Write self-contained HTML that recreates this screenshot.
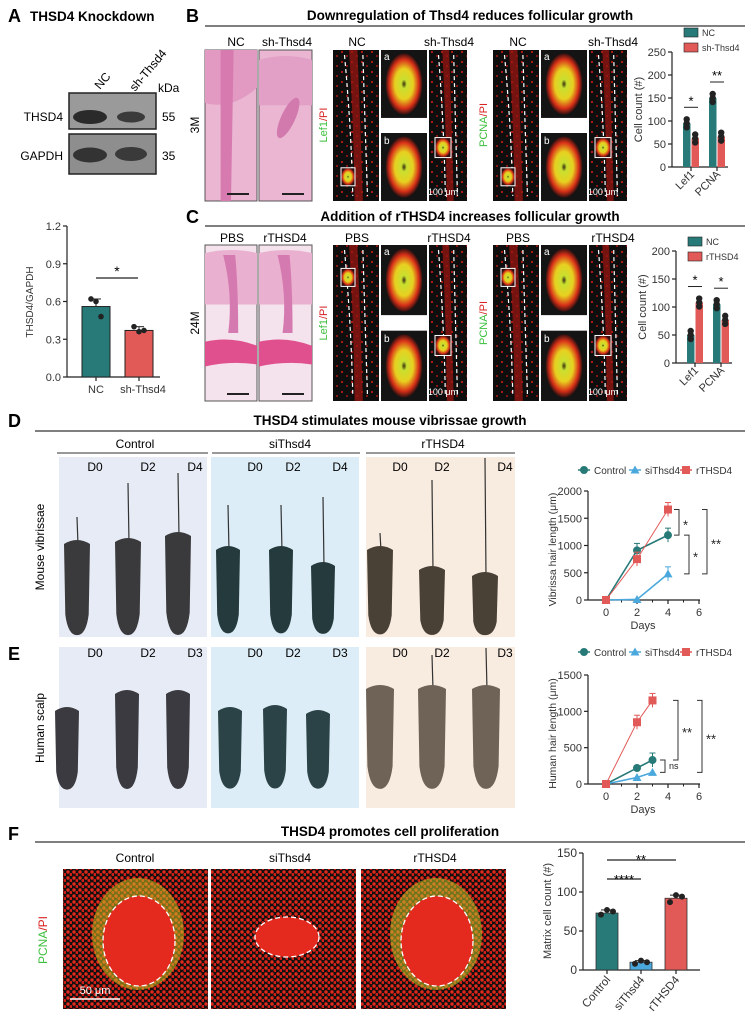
<!DOCTYPE html>
<html><head><meta charset="utf-8"><style>
body{margin:0;background:#fff}
svg{display:block;font-family:"Liberation Sans",Arial,sans-serif}
.t{font-weight:bold;font-size:13.5px}
.L{font-weight:bold;font-size:18px}
.c{font-size:12px}
.k{font-size:10px}
</style></head><body>
<svg id="fig" width="745" height="1025" viewBox="0 0 745 1025" xmlns="http://www.w3.org/2000/svg">
<defs>
<radialGradient id="rb" cx="50%" cy="50%" r="50%"><stop offset="0" stop-color="#e8201a"/><stop offset="0.7" stop-color="#b01510"/><stop offset="1" stop-color="#1a1a1a"/></radialGradient>
<radialGradient id="yb" cx="50%" cy="50%" r="50%"><stop offset="0" stop-color="#3a2a10"/><stop offset="0.15" stop-color="#c8e030"/><stop offset="0.5" stop-color="#e8d020"/><stop offset="0.8" stop-color="#d83018"/><stop offset="1" stop-color="#301010"/></radialGradient>
<pattern id="dots" width="10" height="10" patternUnits="userSpaceOnUse"><rect width="10" height="10" fill="#0e0e0e"/><circle cx="2" cy="2" r="1.1" fill="#b81a14"/><circle cx="7" cy="6" r="1" fill="#a81812"/></pattern>
<pattern id="dots2" width="6" height="6" patternUnits="userSpaceOnUse"><rect width="6" height="6" fill="#151010"/><circle cx="2" cy="2" r="1.7" fill="#e22a1c"/><circle cx="5" cy="4.5" r="1.5" fill="#d82018"/></pattern>
</defs>

<text class="L" x="8" y="22">A</text>
<text class="t" x="30" y="21">THSD4 Knockdown</text>
<text class="L" x="186" y="22">B</text>
<text class="t" x="470" y="20" text-anchor="middle">Downregulation of Thsd4 reduces follicular growth</text>
<line x1="205" y1="26" x2="745" y2="26" stroke="#333" stroke-width="1.2"/>
<text class="L" x="186" y="223">C</text>
<text class="t" x="470" y="221" text-anchor="middle">Addition of rTHSD4 increases follicular growth</text>
<line x1="205" y1="226" x2="745" y2="226" stroke="#333" stroke-width="1.2"/>
<text class="L" x="8" y="427">D</text>
<text class="t" x="390" y="425" text-anchor="middle">THSD4 stimulates mouse vibrissae growth</text>
<line x1="35" y1="431" x2="745" y2="431" stroke="#333" stroke-width="1.2"/>
<text class="L" x="8" y="660">E</text>
<text class="L" x="8" y="840">F</text>
<text class="t" x="390" y="836" text-anchor="middle">THSD4 promotes cell proliferation</text>
<line x1="35" y1="842" x2="745" y2="842" stroke="#333" stroke-width="1.2"/>

<g>
<text class="c" transform="translate(100,90) rotate(-50)">NC</text>
<text class="c" transform="translate(135,92) rotate(-50)">sh-Thsd4</text>
<text class="c" x="158" y="92">kDa</text>
<rect x="69" y="93" width="87" height="36" fill="#9a9a9a" stroke="#222" stroke-width="1.5"/>
<ellipse cx="90" cy="117" rx="17" ry="7" fill="#2a2a2a"/><ellipse cx="131" cy="117" rx="14" ry="5.5" fill="#3a3a3a"/>
<rect x="69" y="134" width="87" height="40" fill="#8e8e8e" stroke="#222" stroke-width="1.5"/>
<ellipse cx="90" cy="155" rx="17" ry="7.5" fill="#333"/><ellipse cx="131" cy="154" rx="16" ry="7" fill="#3a3a3a"/>
<text class="c" x="63" y="121" text-anchor="end">THSD4</text>
<text class="c" x="63" y="160" text-anchor="end">GAPDH</text>
<text class="c" x="162" y="121">55</text>
<text class="c" x="162" y="160">35</text>
</g>

<g id="charts"></g>
<g id="images"></g>
</svg>
<script>
// ===== DATA =====
const aCats = ["NC", "sh-Thsd4"];
const aVals = [0.56, 0.37];
const aPts = [[0.62, 0.60, 0.48], [0.40, 0.36, 0.37]];
const aTicks = [0, 0.3, 0.6, 0.9, 1.2];
const aTickLabels = ["0.0", "0.3", "0.6", "0.9", "1.2"];

const bCats = ["Lef1", "PCNA"];
const bNC = [95, 150];
const bSh = [62, 66];
const bTicks = [0, 50, 100, 150, 200, 250];

const cCats = ["Lef1", "PCNA"];
const cNC = [50, 105];
const cR = [108, 77];
const cTicks = [0, 50, 100, 150, 200];

const dDays = [0, 2, 4];
const dControl = [0, 910, 1190];
const dSi = [0, 10, 480];
const dR = [0, 750, 1660];
const dYTicks = [0, 500, 1000, 1500, 2000];
const xTicks = [0, 2, 4, 6];

const eDays = [0, 2, 3];
const eControl = [0, 220, 330];
const eSi = [0, 90, 160];
const eR = [0, 850, 1150];
const eYTicks = [0, 500, 1000, 1500];

const fCats = ["Control", "siThsd4", "rTHSD4"];
const fVals = [73, 10, 92];
const fPts = [[71, 77, 75], [8, 12, 10], [87, 96, 94]];
const fTicks = [0, 50, 100, 150];

// ===== helpers =====
const NS = "http://www.w3.org/2000/svg";
const charts = document.getElementById("charts");
const images = document.getElementById("images");
function mk(tag, parent) { const e = document.createElementNS(NS, tag); parent.appendChild(e); return e; }
function at(e, o) { for (const k in o) e.setAttribute(k, o[k]); return e; }
function txt(parent, s, x, y, size, anchor, extra) {
  const t = mk("text", parent); at(t, { x: x, y: y, "font-size": size, "text-anchor": anchor || "start" });
  if (extra) at(t, extra); t.textContent = s; return t;
}
function line(parent, x1, y1, x2, y2, col, w) { return at(mk("line", parent), { x1, y1, x2, y2, stroke: col || "#222", "stroke-width": w || 1 }); }
const TEAL = "#277a78", RED = "#e25a58", BLUE = "#4aa8dc";

function yAxis(g, x, ticks, labels, ys, size) {
  line(g, x, ys(ticks[ticks.length - 1]), x, ys(ticks[0]), "#222", 1.2);
  ticks.forEach((t, i) => { line(g, x - 4, ys(t), x, ys(t), "#222", 1.2); txt(g, labels ? labels[i] : String(t), x - 6, ys(t) + 4, size || 11, "end", { fill: "#333" }); });
}

// ===== Panel A chart =====
(function () {
  const g = mk("g", charts);
  
  
  const y = v => 377 - v / 1.2 * 151;
  const xc = [96, 139];
  yAxis(g, 67, aTicks, aTickLabels, y, 11);
  line(g, 67, 377, 160, 377, "#222", 1.2);
  aVals.forEach((v, i) => {
    const r = mk("rect", g);
    
    
    at(r, { x: xc[i] - 14, y: y(v), width: 28, height: 377 - y(v), fill: i ? RED : TEAL, stroke: "#222", "stroke-width": 1 });
    const mx = Math.max(...aPts[i]);
    line(g, xc[i], y(v), xc[i], y(mx), "#222", 1); line(g, xc[i] - 5, y(mx), xc[i] + 5, y(mx), "#222", 1);
    aPts[i].forEach((p, j) => { const c = mk("circle", g); at(c, { cx: xc[i] - 5 + j * 5, cy: y(p), r: 2.8, fill: "#222" }); });
    line(g, xc[i], 377, xc[i], 381, "#222", 1.2);
    txt(g, aCats[i], xc[i] + (i ? 4 : 0), 393, 11, "middle", { fill: "#333" });
  });
  line(g, 96, 278, 138, 278, "#222", 1.2);
  txt(g, "*", 117, 276, 14, "middle");
  txt(g, "THSD4/GAPDH", 0, 0, 10, "middle", { transform: "translate(33,302) rotate(-90)", fill: "#333" });
})();

// ===== Panels B/C bar charts =====
function smallBars(name, axisX, y0, yTop, maxV, ticks, cats, s1, s2, leg2, yOff) {
  const g = mk("g", charts);
  
  
  const y = v => y0 - v / maxV * (y0 - yTop);
  yAxis(g, axisX, ticks, null, y, 11);
  line(g, axisX, y0, axisX + 56, y0, "#222", 1.2);
  cats.forEach((c, i) => {
    const base = axisX + 11 + i * 26;
    [[s1[i], TEAL], [s2[i], RED]].forEach((d, j) => {
      const r = mk("rect", g);
      
      
      at(r, { x: base + j * 8.5, y: y(d[0]), width: 7.5, height: y0 - y(d[0]), fill: d[1] });
      for (let k = 0; k < 3; k++) at(mk("circle", g), { cx: base + j * 8.5 + 3.7, cy: y(d[0]) + (k - 1) * 4, r: 3.2, fill: "#222" });
    });
    line(g, base + 8, y0, base + 8, y0 + 4, "#222", 1.2);
    line(g, base + 1, y(Math.max(s1[i], s2[i])) - 16, base + 15, y(Math.max(s1[i], s2[i])) - 16, "#222", 1);
    txt(g, (name.indexOf("b-") >= 0 && i) ? "**" : "*", base + 8, y(Math.max(s1[i], s2[i])) - 18, 13, "middle");
    txt(g, c, 0, 0, 11, "end", { transform: `translate(${base + 12},${y0 + 8}) rotate(-45)`, fill: "#333" });
  });
  txt(g, "Cell count (#)", 0, 0, 11, "middle", { transform: `translate(${axisX - 30},${(y0 + yTop) / 2}) rotate(-90)`, fill: "#333" });
  [["NC", TEAL], [leg2, RED]].forEach((l, i) => {
    const r = mk("rect", g);
    
    
    at(r, { x: axisX + 12, y: yOff + i * 15 - 5, width: 14, height: 9, fill: l[1], stroke: "#222", "stroke-width": 0.6 });
    txt(g, l[0], axisX + 30, yOff + i * 15 + 3, 9, "start", { fill: "#333" });
  });
}
smallBars("panel-b-bar-chart", 672, 167, 52, 250, bTicks, bCats, bNC, bSh, "sh-Thsd4", 33);
smallBars("panel-c-bar-chart", 676, 363, 251, 200, cTicks, cCats, cNC, cR, "rTHSD4", 242);

// ===== Line charts D/E =====
function marker(g, type, x, y, col) {
  let m;
  if (type === 0) m = at(mk("circle", g), { cx: x, cy: y, r: 4, fill: col });
  else if (type === 1) m = at(mk("polygon", g), { points: `${x},${y - 4.5} ${x + 4.5},${y + 3.5} ${x - 4.5},${y + 3.5}`, fill: col });
  else m = at(mk("rect", g), { x: x - 4, y: y - 4, width: 8, height: 8, fill: col });
  return m;
}
function lineChart(name, y0, yTop, maxV, yTicks, days, series, ylabel, legY, brackets, showDays) {
  const g = mk("g", charts);
  
  
  const x = d => 606 + d / 6 * 93;
  const y = v => y0 - v / maxV * (y0 - yTop);
  yAxis(g, 588, yTicks, null, y, 11);
  line(g, 588, y0, 700, y0, "#222", 1.2);
  xTicks.forEach(t => { line(g, x(t), y0, x(t), y0 + 4, "#222", 1.2); txt(g, String(t), x(t), y0 + 16, 11, "middle", { fill: "#333" }); });
  [1, 3, 5].forEach(t => line(g, x(t), y0, x(t), y0 + 2.5, "#222", 1));
  if (showDays) txt(g, "Days", 643, y0 + 29, 11, "middle", { fill: "#333" });
  txt(g, ylabel, 0, 0, 10.5, "middle", { transform: `translate(556,${(y0 + yTop) / 2 + 4}) rotate(-90)`, fill: "#333" });
  const cols = [TEAL, BLUE, RED], names = ["Control", "siThsd4", "rTHSD4"];
  series.forEach((s, si) => {
    const p = mk("polyline", g);
    
    
    at(p, { points: s.map((v, i) => x(days[i]) + "," + y(v)).join(" "), fill: "none", stroke: cols[si], "stroke-width": si === 2 ? 1 : 1.6 });
    s.forEach((v, i) => {
      if (v > 300) { line(g, x(days[i]), y(v) - 7, x(days[i]), y(v) + 7, cols[si], 1); line(g, x(days[i]) - 3, y(v) - 7, x(days[i]) + 3, y(v) - 7, cols[si], 1); }
      const m = marker(g, si, x(days[i]), y(v), cols[si]);
      
      
    });
  });
  const lx = [592, 643, 694];
  names.forEach((n, i) => {
    line(g, lx[i] - 14, legY, lx[i] - 2, legY, cols[i], 1.5);
    marker(g, i, lx[i] - 8, legY, cols[i]);
    txt(g, n, lx[i] + 2, legY + 4, 10, "start", { fill: "#333" });
  });
  brackets.forEach(b => {
    const ya = y(b[1]), yb = y(b[2]);
    at(mk("polyline", g), { points: `${b[0] - 5},${ya} ${b[0]},${ya} ${b[0]},${yb} ${b[0] - 5},${yb}`, fill: "none", stroke: "#333", "stroke-width": 1 });
    txt(g, b[3], b[0] + 4, (ya + yb) / 2 + (b[3] === "ns" ? 3 : 7), b[3] === "ns" ? 9 : 13, "start", { fill: "#222" });
  });
}
lineChart("panel-d-line-chart", 600, 491, 2000, dYTicks, dDays, [dControl, dSi, dR], "Vibrissa hair length (μm)", 470,
  [[679, dR[2], dControl[2], "*"], [689, dControl[2], dSi[2], "*"], [707, dR[2], dSi[2], "**"]], true);
lineChart("panel-e-line-chart", 784, 675, 1500, eYTicks, eDays, [eControl, eSi, eR], "Human hair length (μm)", 652,
  [[665, eControl[2], eSi[2], "ns"], [678, eR[2], eControl[2], "**"], [702, eR[2], eSi[2], "**"]], true);

// ===== Panel F chart =====
(function () {
  const g = mk("g", charts);
  
  
  const y = v => 970 - v / 150 * 117;
  const xc = [607, 641, 676];
  yAxis(g, 583, fTicks, null, y, 12);
  line(g, 583, 970, 700, 970, "#222", 1.2);
  const cols = [TEAL, BLUE, RED];
  fVals.forEach((v, i) => {
    const r = mk("rect", g);
    
    
    at(r, { x: xc[i] - 11, y: y(v), width: 22, height: 970 - y(v), fill: cols[i], stroke: "#333", "stroke-width": 0.8 });
    line(g, xc[i] - 6, y(Math.max(...fPts[i])), xc[i] + 6, y(Math.max(...fPts[i])), "#222", 1);
    fPts[i].forEach((p, j) => at(mk("circle", g), { cx: xc[i] - 6 + j * 6, cy: y(p), r: 3, fill: "#222" }));
    line(g, xc[i], 970, xc[i], 974, "#222", 1.2);
    txt(g, fCats[i], 0, 0, 11.5, "end", { transform: `translate(${xc[i] + 4},${980}) rotate(-50)`, fill: "#333" });
  });
  line(g, 607, 879, 641, 879, "#222", 1.2); txt(g, "****", 624, 884, 13, "middle");
  line(g, 607, 860, 676, 860, "#222", 1.2); txt(g, "**", 641, 864, 13, "middle");
  txt(g, "Matrix cell count (#)", 0, 0, 11, "middle", { transform: "translate(551,911) rotate(-90)", fill: "#333" });
})();

// ===== Images =====
function hne(x, y, w, h, variant) {
  const g = mk("g", images);
  
  
  at(mk("rect", g), { x, y, width: w, height: h, fill: variant === 2 ? "#f4e2ec" : "#eab6d2", stroke: "#555", "stroke-width": 1 });
  if (variant === 0) {
    at(mk("path", g), { d: `M${x},${y} h${w} v${h * 0.25} q-${w / 2},${h * 0.15} -${w},${h * 0.1}z`, fill: "#e29ac2" });
    at(mk("path", g), { d: `M${x + w * 0.3},${y} l${w * 0.25},0 l-${w * 0.05},${h} l-${w * 0.2},0z`, fill: "#d77ab0" });
  } else if (variant === 1) {
    at(mk("path", g), { d: `M${x},${y + 10} q${w / 2},-8 ${w},0 v${h * 0.3} h-${w}z`, fill: "#e2a0c6" });
    at(mk("ellipse", g), { cx: x + w * 0.55, cy: y + h * 0.45, rx: 7, ry: 22, fill: "#d27aae", transform: `rotate(25 ${x + w * 0.55} ${y + h * 0.45})` });
  } else {
    at(mk("path", g), { d: `M${x},${y + 8} q${w / 2},-6 ${w},0 v${h * 0.33} h-${w}z`, fill: "#eab0d0" });
    at(mk("path", g), { d: `M${x},${y + h * 0.62} q${w / 2},-6 ${w},4 v${h * 0.12} q-${w / 2},-4 -${w},2z`, fill: "#e0508f" });
    at(mk("path", g), { d: `M${x + w * 0.35},${y + 10} q10,40 5,${h * 0.5} l10,0 q0,-${h * 0.3} -3,-${h * 0.5}z`, fill: "#d57ab0" });
  }
  at(mk("rect", g), { x: x + w - 30, y: y + h - 8, width: 22, height: 2, fill: "#222" });
  return g;
}
function fluor(x, y, w, h, kind) {
  const g = mk("g", images);
  
  
  at(mk("rect", g), { x, y, width: w, height: h, fill: "url(#dots)" });
  if (kind === "inset") {
    at(mk("rect", g), { x, y, width: w, height: h, fill: "#141414" });
    at(mk("ellipse", g), { cx: x + w / 2, cy: y + h / 2, rx: w * 0.4, ry: h * 0.45, fill: "url(#yb)" });
  } else {
    at(mk("path", g), { d: `M${x + w * 0.35},${y} q${w * 0.1},${h * 0.5} ${w * 0.12},${h} l${w * 0.18},0 q-${w * 0.05},-${h * 0.5} -${w * 0.12},-${h}z`, fill: "#a01510", opacity: 0.7 });
    at(mk("path", g), { d: `M${x + w * 0.25},${y + 5} q${w * 0.15},${h * 0.5} ${w * 0.18},${h - 10} M${x + w * 0.65},${y + 5} q${w * 0.05},${h * 0.5} ${w * 0.1},${h - 10}`, fill: "none", stroke: "#fff", "stroke-width": 1.2, "stroke-dasharray": "4 3" });
  }
  return g;
}
function fluorGroup(x0, y, h, bottomBox) {
  fluor(x0, y, 46, h, "main");
  fluor(x0 + 48, y, 46, h * 0.45, "inset");
  at(mk("rect", images), { x: x0 + 48, y: y + h * 0.45, width: 46, height: h * 0.1, fill: "#fff" });
  fluor(x0 + 48, y + h * 0.55, 46, h * 0.45, "inset");
  fluor(x0 + 96, y, 38, h, "main");
  txt(images, "a", x0 + 51, y + 10, 10, "start", { fill: "#fff" });
  txt(images, "b", x0 + 51, y + h * 0.55 + 11, 10, "start", { fill: "#fff" });
  at(mk("rect", images), { x: x0 + 8, y: y + h * (bottomBox ? 0.78 : 0.15), width: 14, height: 18, fill: "url(#yb)", stroke: "#fff", "stroke-width": 1 });
  at(mk("rect", images), { x: x0 + 102, y: y + h * 0.58, width: 16, height: 20, fill: "url(#yb)", stroke: "#fff", "stroke-width": 1 });
  txt(images, "100 μm", x0 + 110, y + h - 6, 9, "middle", { fill: "#fff" });
}
hne(205, 50, 52, 151, 0); hne(259, 50, 53, 151, 1);
fluorGroup(333, 50, 151, true); fluorGroup(493, 50, 151, true);
hne(205, 245, 52, 156, 2); hne(259, 245, 53, 156, 2);
fluorGroup(333, 245, 156, false); fluorGroup(493, 245, 156, false);

[[236, "NC"], [287, "sh-Thsd4"], [357, "NC"], [449, "sh-Thsd4"], [518, "NC"], [613, "sh-Thsd4"]].forEach(l => txt(images, l[1], l[0], 46, 12, "middle"));
[[232, "PBS"], [285, "rTHSD4"], [357, "PBS"], [449, "rTHSD4"], [518, "PBS"], [613, "rTHSD4"]].forEach(l => txt(images, l[1], l[0], 242, 12, "middle"));
txt(images, "3M", 0, 0, 12, "middle", { transform: "translate(199,125) rotate(-90)" });
txt(images, "24M", 0, 0, 12, "middle", { transform: "translate(199,323) rotate(-90)" });
[[327, 125, "Lef1"], [487, 125, "PCNA"], [327, 323, "Lef1"], [487, 323, "PCNA"]].forEach(l => {
  const t = txt(images, "", 0, 0, 11, "middle", { transform: `translate(${l[0]},${l[1]}) rotate(-90)` });
  const a = mk("tspan", t); a.setAttribute("fill", "#3cbf3c"); a.textContent = l[2];
  const b = mk("tspan", t); b.setAttribute("fill", "#d82020"); b.textContent = "/PI";
});

function photoPanel(x, y, w, h, col) { at(mk("rect", images), { x, y, width: w, height: h, fill: col }); }
function follicle(cx, top, bot, wd, col, hairTop) {
  const g = mk("g", images);
  
  
  if (hairTop) line(g, cx, hairTop, cx + 1, top + 5, "#333", 1.2);
  const hh = bot - top;
  at(mk("path", g), { d: `M${cx - wd / 2},${top + 4} q${wd / 2},-8 ${wd},0 l${-wd * 0.05},${hh * 0.75} q${-wd * 0.1},${hh * 0.22} ${-wd * 0.45},${hh * 0.22} q${-wd * 0.35},0 ${-wd * 0.45},${-hh * 0.22}z`, fill: col });
}
const pc = ["#e6ebf5", "#dcedf7", "#f8ebe0"];
[[59, 148], [211, 148], [366, 149]].forEach((p, i) => { photoPanel(p[0], 457, p[1], 180, pc[i]); photoPanel(p[0], 647, p[1], 161, pc[i]); });
[[135, 57, 208, "Control"], [290, 212, 360, "siThsd4"], [443, 366, 515, "rTHSD4"]].forEach(l => { txt(images, l[3], l[0], 448, 12, "middle"); line(images, l[1], 453, l[2], 453, "#333", 1); });
[95, 148, 195, 255, 293, 340, 400, 442, 505].forEach((x, i) => txt(images, "D" + [0, 2, 4][i % 3], x, 471, 12, "middle"));
[95, 148, 195, 255, 293, 340, 400, 442, 505].forEach((x, i) => txt(images, "D" + [0, 2, 3][i % 3], x, 657, 12, "middle"));
txt(images, "Mouse vibrissae", 0, 0, 12, "middle", { transform: "translate(44,547) rotate(-90)" });
txt(images, "Human scalp", 0, 0, 12, "middle", { transform: "translate(44,728) rotate(-90)" });
[[77, 540, 517], [128, 538, 483], [178, 532, 473]].forEach(f => follicle(f[0], f[1], 634, 26, "#3a3a3c", f[2]));
[[228, 546, 505], [281, 546, 505], [323, 562, 497]].forEach(f => follicle(f[0], f[1], 632, 24, "#243a3c", f[2]));
[[380, 546, 533], [432, 566, 480], [485, 572, 458]].forEach(f => follicle(f[0], f[1], 633, 26, "#4a4136", f[2]));
[[67, 707], [127, 690], [178, 690]].forEach(f => follicle(f[0], f[1], 788, 24, "#3a3a40", 0));
[[230, 707], [275, 705], [318, 710]].forEach(f => follicle(f[0], f[1], 787, 24, "#2b4346", 0));
[[380, 685, 0], [432, 685, 655], [486, 685, 648]].forEach(f => follicle(f[0], f[1], 788, 28, "#6e6356", f[2]));

[[135, "Control"], [290, "siThsd4"], [435, "rTHSD4"]].forEach(l => txt(images, l[1], l[0], 862, 12, "middle"));
[[63, 0], [211, 1], [361, 2]].forEach(p => {
  const g = mk("g", images);
  
  
  const x = p[0], y = 869;
  at(mk("rect", g), { x, y, width: 145, height: 140, fill: "url(#dots2)" });
  if (p[1] !== 1) at(mk("ellipse", g), { cx: x + 75, cy: y + 65, rx: 46, ry: 56, fill: p[1] ? "#b8c828" : "#c8c020", opacity: 0.55 });
  const rx = p[1] === 1 ? 32 : 36, ry = p[1] === 1 ? 20 : 45, cy = p[1] === 1 ? y + 68 : y + 72;
  at(mk("ellipse", g), { cx: x + 76, cy, rx, ry, fill: "#e42a1e", stroke: "#fff", "stroke-width": 1.3, "stroke-dasharray": "5 3" });
});
at(mk("line", images), { x1: 70, y1: 999, x2: 120, y2: 999, stroke: "#fff", "stroke-width": 1.5 });
txt(images, "50 μm", 95, 994, 11, "middle", { fill: "#fff" });
const tp = txt(images, "", 0, 0, 12, "middle", { transform: "translate(47,940) rotate(-90)" });
const t1 = mk("tspan", tp); t1.setAttribute("fill", "#3cbf3c"); t1.textContent = "PCNA";
const t2 = mk("tspan", tp); t2.setAttribute("fill", "#d82020"); t2.textContent = "/PI";
</script>
</body></html>
